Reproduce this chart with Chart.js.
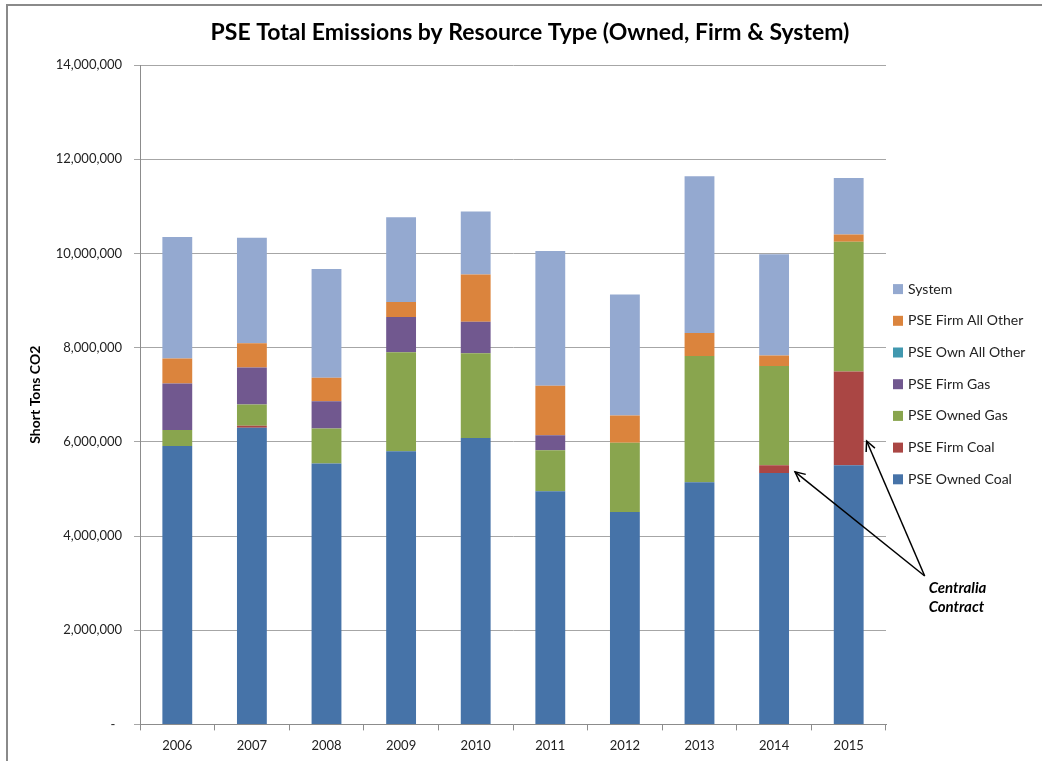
<!DOCTYPE html>
<html lang="en">
<head>
    <meta charset="UTF-8">
    <title>PSE Total Emissions by Resource Type</title>
    <script src="https://cdn.jsdelivr.net/npm/chart.js"></script>
    <style>
        html, body {
            margin: 0;
            background: #fff;
            overflow: hidden;
        }
        .page {
            position: relative;
            width: 1042px;
            height: 761px;
        }
        /* frame of the original document */
        .frame {
            position: absolute;
            left: 6px;
            top: 4px;
            right: -4px;
            bottom: -4px;
            border-left: 2px solid #8a8a8a;
            border-top: 2px solid #8a8a8a;
        }
        .chart-container {
            position: absolute;
            left: 0;
            top: 0;
            width: 1042px;
            height: 761px;
        }
    </style>
</head>
<body>
<div class="page">
    <div class="frame"></div>
    <div class="chart-container">
        <canvas id="emissionsChart"></canvas>
    </div>
</div>

<script>
    // years on the x axis
    const years = ['2006', '2007', '2008', '2009', '2010', '2011', '2012', '2013', '2014', '2015'];

    // short tons CO2
    const pseOwnedCoal    = [5910000, 6300000, 5540000, 5800000, 6080000, 4950000, 4510000, 5140000, 5340000, 5500000];
    const pseFirmCoal     = [0, 40000, 0, 0, 0, 0, 0, 0, 160000, 1990000];
    const pseOwnedGas     = [340000, 450000, 740000, 2100000, 1800000, 870000, 1470000, 2680000, 2110000, 2760000];
    const pseFirmGas      = [990000, 790000, 580000, 750000, 670000, 320000, 0, 0, 0, 0];
    const pseOwnAllOther  = [0, 0, 0, 0, 0, 0, 0, 0, 0, 0];
    const pseFirmAllOther = [530000, 510000, 500000, 320000, 1000000, 1050000, 580000, 490000, 220000, 150000];
    const systemPower     = [2580000, 2240000, 2310000, 1800000, 1340000, 2860000, 2570000, 3330000, 2150000, 1200000];

    const yTicks = [0, 2000000, 4000000, 6000000, 8000000, 10000000, 12000000, 14000000];

    const chartTitle = 'PSE Total Emissions by Resource Type (Owned, Firm & System)';
    const fontFamily = 'Lato, "Open Sans", sans-serif';

    // title sits over the whole picture, not only over the plot
    const pageTitle = {
        id: 'pageTitle',
        afterDraw(chart) {
            const ctx = chart.ctx;
            ctx.save();
            ctx.fillStyle = '#000';
            ctx.font = 'bold 23px ' + fontFamily;
            ctx.textAlign = 'center';
            ctx.textBaseline = 'middle';
            ctx.fillText(chartTitle, chart.width / 2 + 9, 33);
            ctx.restore();
        }
    };

    // legend at the right of the plot, last series on top
    const sideLegend = {
        id: 'sideLegend',
        afterDraw(chart) {
            const ctx = chart.ctx;
            const area = chart.chartArea;
            const sets = chart.data.datasets.slice().reverse();
            const step = 31.7;
            const midY = (area.top + area.bottom) / 2 - 10.5;
            let y = midY - step * (sets.length - 1) / 2;
            const x = area.right + 7;

            ctx.save();
            ctx.font = '14px ' + fontFamily;
            ctx.textAlign = 'left';
            ctx.textBaseline = 'middle';
            sets.forEach(ds => {
                ctx.fillStyle = ds.backgroundColor;
                ctx.fillRect(x, y - 5, 10, 10);
                ctx.fillStyle = '#222';
                ctx.fillText(ds.label, x + 15, y);
                y += step;
            });
            ctx.restore();
        }
    };

    // arrows + "Centralia Contract" note
    const centraliaNote = {
        id: 'centraliaNote',
        afterDatasetsDraw(chart) {
            const ctx = chart.ctx;
            const xs = chart.scales.x;
            const ys = chart.scales.y;
            const meta = chart.getDatasetMeta(1); // PSE Firm Coal

            const tailX = xs.getPixelForValue(9) + 76;
            const tailY = ys.getPixelForValue(3150000);

            const b14 = meta.data[8];
            const b15 = meta.data[9];
            const heads = [
                [b14.x + b14.width / 2 + 6, b14.base - 1],
                [b15.x + b15.width / 2 + 3, b15.y + (b15.base - b15.y) * 0.74]
            ];

            ctx.save();
            ctx.strokeStyle = '#000';
            ctx.lineWidth = 1.5;
            heads.forEach(([hx, hy]) => {
                ctx.beginPath();
                ctx.moveTo(tailX, tailY);
                ctx.lineTo(hx, hy);
                ctx.stroke();
                // open arrow head
                const ang = Math.atan2(hy - tailY, hx - tailX);
                const len = 11;
                ctx.beginPath();
                ctx.moveTo(hx - len * Math.cos(ang - 0.45), hy - len * Math.sin(ang - 0.45));
                ctx.lineTo(hx, hy);
                ctx.lineTo(hx - len * Math.cos(ang + 0.45), hy - len * Math.sin(ang + 0.45));
                ctx.stroke();
            });

            ctx.fillStyle = '#000';
            ctx.font = 'italic bold 15px ' + fontFamily;
            ctx.textAlign = 'left';
            ctx.textBaseline = 'middle';
            ctx.fillText('Centralia', tailX + 4, tailY + 12);
            ctx.fillText('Contract', tailX + 4, tailY + 31);
            ctx.restore();
        }
    };

    const ctx = document.getElementById('emissionsChart').getContext('2d');
    const emissionsChart = new Chart(ctx, {
        type: 'bar',
        data: {
            labels: years,
            datasets: [
                { label: 'PSE Owned Coal',     data: pseOwnedCoal,    backgroundColor: '#4673a8' },
                { label: 'PSE Firm Coal',      data: pseFirmCoal,     backgroundColor: '#aa4644' },
                { label: 'PSE Owned Gas',      data: pseOwnedGas,     backgroundColor: '#89a54e' },
                { label: 'PSE Firm Gas',       data: pseFirmGas,      backgroundColor: '#71588f' },
                { label: 'PSE Own All Other',  data: pseOwnAllOther,  backgroundColor: '#4198af' },
                { label: 'PSE Firm All Other', data: pseFirmAllOther, backgroundColor: '#db843d' },
                { label: 'System',             data: systemPower,     backgroundColor: '#94a9d0' }
            ]
        },
        options: {
            responsive: true,
            maintainAspectRatio: false,
            animation: false,
            barPercentage: 0.4,
            categoryPercentage: 1.0,
            layout: {
                padding: { left: 8, right: 156, top: 65, bottom: -1 }
            },
            plugins: {
                title: { display: false },
                legend: { display: false },
                tooltip: { enabled: false }
            },
            scales: {
                x: {
                    stacked: true,
                    grid: {
                        drawOnChartArea: false,
                        drawTicks: true,
                        tickLength: 6,
                        color: '#8c8c8c',
                        offset: true
                    },
                    border: { display: true, color: '#8c8c8c' },
                    ticks: {
                        color: '#222',
                        padding: 8,
                        font: { family: fontFamily, size: 13 }
                    }
                },
                y: {
                    stacked: true,
                    min: 0,
                    max: 14000000,
                    afterBuildTicks(scale) {
                        scale.ticks = yTicks.map(v => ({ value: v }));
                    },
                    afterFit(scale) {
                        scale.width = 132;
                    },
                    grid: {
                        color: '#a6a6a6',
                        tickLength: 6
                    },
                    border: { display: true, color: '#8c8c8c' },
                    ticks: {
                        color: '#222',
                        padding: 12,
                        font: { family: fontFamily, size: 13 },
                        callback: v => v === 0 ? '-  ' : v.toLocaleString('en-US')
                    },
                    title: {
                        display: true,
                        text: 'Short Tons CO2',
                        color: '#000',
                        font: { family: fontFamily, size: 14, weight: 'bold' },
                        padding: { top: 19, bottom: 0 }
                    }
                }
            }
        },
        plugins: [pageTitle, sideLegend, centraliaNote]
    });
</script>
</body>
</html>
